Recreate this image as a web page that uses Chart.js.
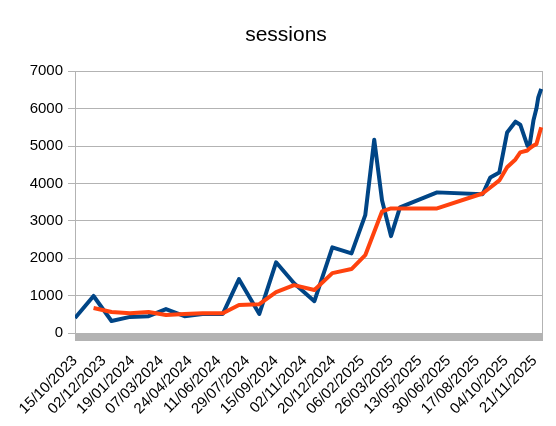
<!DOCTYPE html>
<html>
<head>
<meta charset="utf-8">
<script src="https://cdn.jsdelivr.net/npm/chart.js@4.4.1/dist/chart.umd.min.js"></script>
<style>
  html, body { margin: 0; padding: 0; background: #fff; }
  #wrap { width: 556px; height: 426px; }
</style>
</head>
<body>
<div id="wrap"><canvas id="sessionsChart"></canvas></div>
<script>
const dates = [
  '2023-10-15', '2023-11-15', '2023-12-15', '2024-01-15', '2024-02-15',
  '2024-03-15', '2024-04-15', '2024-05-15', '2024-06-18', '2024-07-15',
  '2024-08-18', '2024-09-15', '2024-10-15', '2024-11-18', '2024-12-18',
  '2025-01-19', '2025-02-11', '2025-02-26', '2025-03-11', '2025-03-26',
  '2025-04-10', '2025-06-11', '2025-08-26', '2025-09-08', '2025-09-23',
  '2025-10-06', '2025-10-20', '2025-10-28', '2025-11-09', '2025-11-12',
  '2025-11-19', '2025-11-24', '2025-11-27', '2025-12-02'
];
const sessions = [
  400, 990, 320, 430, 450,
  640, 450, 510, 510, 1440,
  510, 1890, 1330, 850, 2290,
  2130, 3150, 5170, 3550, 2590,
  3360, 3760, 3710, 4160, 4290,
  5360, 5650, 5570, 5010, 4960,
  5680, 6000, 6290, 6530
];
const trend = [
  null, 670, 560, 530, 560,
  480, 510, 530, 530, 750,
  770, 1090, 1280, 1150, 1600,
  1710, 2080, null, 3250, 3330,
  3330, 3330, 3730, 3890, 4080,
  4430, 4640, 4830, 4880, 4930,
  5010, 5050, null, 5500
];
const yTicks = [0, 1000, 2000, 3000, 4000, 5000, 6000, 7000];
const firstTickDate = '2023-10-15';
const tickStepDays = 48;
const lastAxisDay = 782;

const DAY = 86400000;
function toUtc(iso) {
  const [y, m, d] = iso.split('-').map(Number);
  return Date.UTC(y, m - 1, d);
}
const origin = toUtc(firstTickDate);
const dayOf = iso => (toUtc(iso) - origin) / DAY;

function fmtDay(v) {
  const d = new Date(origin + v * DAY);
  const dd = String(d.getUTCDate()).padStart(2, '0');
  const mm = String(d.getUTCMonth() + 1).padStart(2, '0');
  return `${dd}/${mm}/${d.getUTCFullYear()}`;
}

const points = arr => dates.map((iso, i) => ({ x: dayOf(iso), y: arr[i] }));

// grey floor strip under the plot + right frame line
const floorBand = {
  id: 'floorBand',
  beforeDatasetsDraw(chart) {
    const { ctx, chartArea: a } = chart;
    ctx.save();
    ctx.fillStyle = '#b3b3b3';
    ctx.fillRect(a.left, a.bottom, a.right - a.left, 8);
    ctx.strokeStyle = '#b3b3b3';
    ctx.lineWidth = 1;
    ctx.beginPath();
    ctx.moveTo(a.right - 0.5, a.top);
    ctx.lineTo(a.right - 0.5, a.bottom);
    ctx.stroke();
    ctx.restore();
  }
};

const font = { family: '"Liberation Sans", Arial, sans-serif', size: 15 };

new Chart(document.getElementById('sessionsChart'), {
  type: 'line',
  data: {
    datasets: [
      {
        label: 'sessions',
        data: points(sessions),
        borderColor: '#004586',
        borderWidth: 4,
        pointRadius: 0,
        tension: 0,
        borderJoinStyle: 'round',
        order: 1
      },
      {
        label: 'trend',
        data: points(trend),
        borderColor: '#ff420e',
        borderWidth: 4,
        pointRadius: 0,
        tension: 0,
        spanGaps: true,
        borderJoinStyle: 'round',
        order: 0
      }
    ]
  },
  options: {
    responsive: true,
    maintainAspectRatio: false,
    animation: false,
    layout: { padding: { left: 29, right: 13, top: 0, bottom: 0 } },
    plugins: {
      legend: { display: false },
      tooltip: { enabled: false },
      title: {
        display: true,
        text: 'sessions',
        color: '#000',
        font: { family: font.family, size: 21, weight: 'normal' },
        padding: { top: 23, bottom: 23 }
      }
    },
    scales: {
      x: {
        type: 'linear',
        min: 0,
        max: lastAxisDay,
        grid: { display: false },
        border: { display: false },
        afterFit: axis => {
          axis.height = 93;
          axis.paddingLeft = 0;
          axis.paddingRight = 0;
        },
        ticks: {
          stepSize: tickStepDays,
          includeBounds: false,
          autoSkip: false,
          maxRotation: 45,
          minRotation: 45,
          padding: 11,
          color: '#000',
          font: font,
          callback: v => fmtDay(v)
        }
      },
      y: {
        min: 0,
        max: 7000,
        afterBuildTicks: axis => { axis.ticks = yTicks.map(v => ({ value: v })); },
        afterFit: axis => { axis.width = 46; },
        grid: { color: '#b3b3b3', tickLength: 7 },
        border: { color: '#b3b3b3' },
        ticks: { color: '#000', font: font, padding: 5, callback: v => String(v) }
      }
    }
  },
  plugins: [floorBand]
});
</script>
</body>
</html>
